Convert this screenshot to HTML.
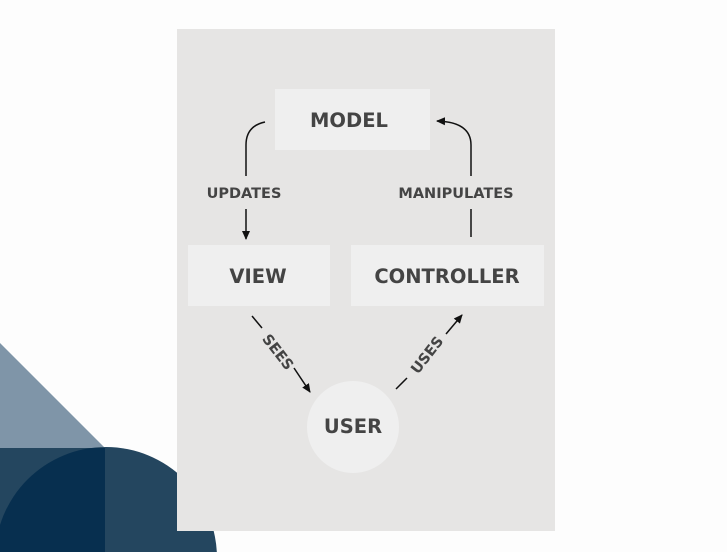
<!DOCTYPE html>
<html><head><style>
html,body{margin:0;width:727px;height:552px;overflow:hidden;background:#fdfdfd;font-family:"DejaVu Sans","Liberation Sans",sans-serif}
svg{display:block}
</style></head><body>
<svg width="727" height="552" style="position:absolute;left:0;top:0">
<defs>
<clipPath id="lc"><rect x="0" y="448" width="105" height="104"/></clipPath>
<marker id="a" markerWidth="10" markerHeight="10" refX="8" refY="5" orient="auto" markerUnits="userSpaceOnUse"><path d="M0,1 L9,5 L0,9 Z" fill="#111"/></marker>
</defs>
<polygon points="0,343 105,448 0,448" fill="#7f95a8"/>
<rect x="0" y="448" width="105" height="104" fill="#24465f"/>
<circle cx="106" cy="558" r="111" fill="#24465f"/>
<circle cx="106" cy="558" r="111" fill="#072f4f" clip-path="url(#lc)"/>
<rect x="177" y="29" width="378" height="502" fill="#e6e5e4"/>
<rect x="275" y="89" width="155" height="61" fill="#efefef"/>
<rect x="188" y="245" width="142" height="61" fill="#efefef"/>
<rect x="351" y="245" width="193" height="61" fill="#efefef"/>
<circle cx="353" cy="427" r="46" fill="#efefef"/>
<g font-weight="bold" fill="#444" text-anchor="middle">
<text x="349" y="127" font-size="19.5">MODEL</text>
<text x="258" y="283" font-size="19.5">VIEW</text>
<text x="447" y="283" font-size="19.5">CONTROLLER</text>
<text x="353" y="433" font-size="19.5">USER</text>
<text x="244" y="198" font-size="14.5">UPDATES</text>
<text x="456" y="198" font-size="14.5">MANIPULATES</text>
<text transform="translate(278,352) rotate(52)" font-size="14.5" y="5">SEES</text>
<text transform="translate(427,355) rotate(-52)" font-size="14.5" y="5">USES</text>
</g>
<g stroke="#111" stroke-width="1.5" fill="none">
<path d="M265,122 Q246,126 246,145 L246,176"/>
<path d="M246,209 L246,239" marker-end="url(#a)"/>
<path d="M471,237 L471,209"/>
<path d="M471,176 L471,145 Q471,122 437,121" marker-end="url(#a)"/>
<path d="M252,316 L262,328"/>
<path d="M294,368 L310,392" marker-end="url(#a)"/>
<path d="M396,389 L407,378"/>
<path d="M446,334 L462,315" marker-end="url(#a)"/>
</g>
</svg>
</body></html>
